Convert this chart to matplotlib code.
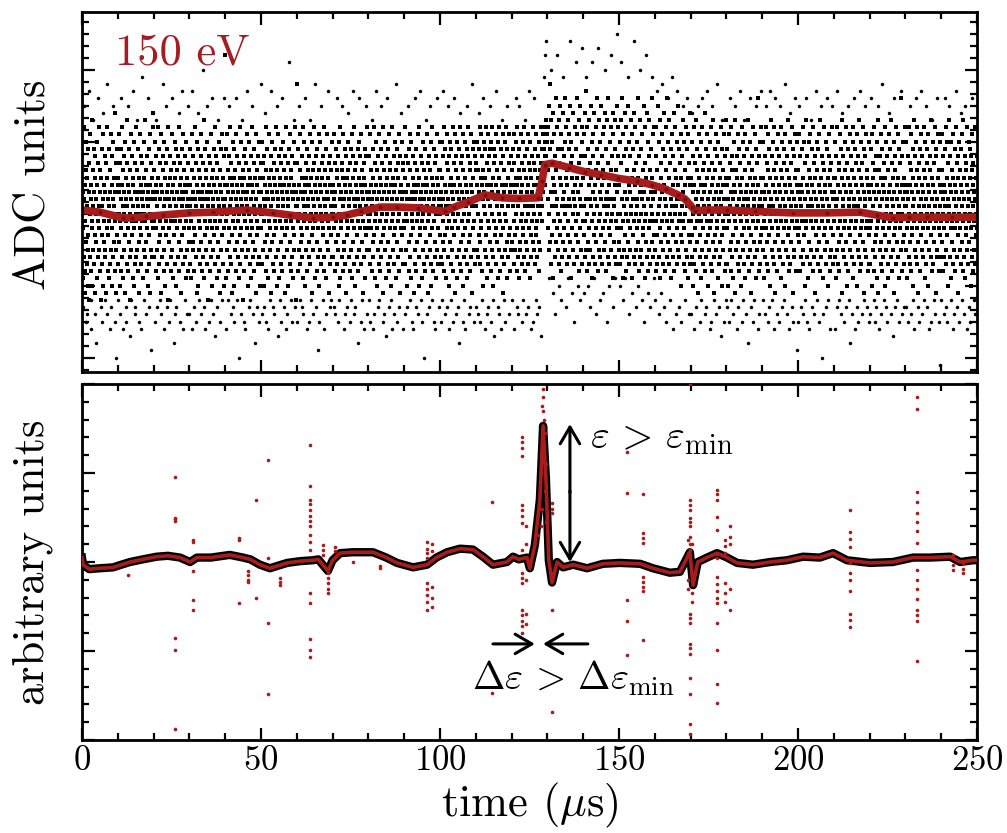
import numpy as np
import matplotlib
matplotlib.use("Agg")
import matplotlib.pyplot as plt
from matplotlib.ticker import MultipleLocator, AutoMinorLocator

plt.rcParams["font.family"] = "cmr10"
plt.rcParams["mathtext.fontset"] = "cm"
plt.rcParams["axes.unicode_minus"] = False
plt.rcParams["axes.formatter.use_mathtext"] = True

# --- top panel: raw ADC samples, one letter per sample, one row = 10 us
LEVELS = "ABCDEFGHIJKLMNOPQRSTUVWXYZabcdefghijklmnopqrstuvwxyz"  # 'Y' is level 0
ADC_ROWS = [
    "YgPbWkSaNcQXeUiRZdOhVTbMfYjSaQcWlXOeTZhRbVdNgYUaiPcXfSZkTWbQeYMdVhRZaOjXcUgSbTYfNWdkVQaZhPXeRbjTYcOgWaSiUdZmQbXfTNYhVc",
    "RdYjUbOfXaQhWcSkZePYbTgViNaXdRfZlWcQbUhSYeMjTaXgVdPZcOiWbRfYkSXaTeQhZUbNdWjYcVgRaXfPbZiTYdSlXcUeQaWgObZhRVcYjNaTfXdSkWbm",
    "XeSaYiQcWgTbZkPdUhRaVfXjNcYbSgWeQZiTadOXfVbRhYcMkWaUdZgSeQXbjTYcPfVaRiXdZhObWeSgYaUkQcXfTdNbZhVjRaYeWcSgPXbiTdZaQfUcW",
    "ZcRhXaPeYjUbTgWdQkVaSfZiNcYbOhXeTaRdWjUgZbQfYcSlPaXhVdTeWbRiZaMgYcQXfUjSbWdOeZaThVcXkRbYgPdWfUaSiQZcNeXbThYjVaRdWgOZcu",
    "aPhXcTjYeQbWgUdSkZaRfVcNiXbYhOdWeTaQjZcUgSbXfPYdVkRaWiTcZeMbYgQdXhUaSfWjZbOcTeYiRdVgXaPkWcSbUfZhQYdTjNaXeVcRgWbiSZdOfY",
    "WbRiYdTfXaOgZcUkQeVbShYaPjXdWcTgZeNbUiRaYfQdVhXcSkWbOeZaTjYgPcXdUfRhWbQiZaSeYcNgVdXkTbWfOaZhYcRjUeQdXbSgPaWiVcTfYkZbMq",
    "ZfQaXhTcYeRjWbUgSdVkPaZiXcObYfTdWhQeZaSgUcXjRbYdNiVeWaTfZkPcXgYbQhUdSaWjOeZcTiYbRfXdVgWaQkSeZcPhYbUjTdXaNfWcRgZeVbSiY",
    "YcSjWaQfZbUhXeRdTgVcOiYaPkXbWeSfZdQjUaThRcYbNgXdVeWiSaZfQcYhTbPjXdUgRaWkZeOcYfSbVhXaQdTiWgZcRjYbUeNaXfSdPhWcZgVkTbYaW",
    "XgTbYjRcWeQaZhUdSkVbPfXiYcOeWaTgZbRjQdXhUcSaYfNkVeWbTiZcPgXaYdRhUbQjWeSfZcOaXkTdYgVbRiWcPeZaUhXfSdQjYbNgTcWaViZeRfXb",
    "WdRkYbTgXaOfZcQhUeSjVaPiYbXdWgNcZfTaRhQbXeUjYcSdOkWaVgZbPfXiTcYeRaQhWdUbSjZcNfXgYaTeViObRdWkZcQhXaUfSgYbPjTdWcReZaVi",
    "YeSbZiRdXgUaTkQcVhZbPfYjWaSeOgXcUiZdRhTbWkYaQfVcNjXeZgSbPiYdWhTaRkZcUfQbXgVeOjYaSdWiTcZhRbPgXkUaYeQfVcSjZbNhWdTiXaRgZe",
    "ZfTcaiSeYhVbUkRdXjWcQgaeOiZbThYdSkVcPfXjaRgWeUhZcQiTbYkSdOfXhaVgWcRjZeUbPiYdTkXaQfVhScZgNjWbReTiYcXkUaPhZdSfVjQbWgaTc",
    "aeUhZcRjXfVbTiYdQkWcSgZePhaUdTjXbRfYcWiVeSkZaQgXdUhTbYjRcZfWePiaVdSgXbUkZcTfYeRhWaVjXcSdZgUbQiYeTfakXchZejbfhdgkcielgjfi",
    "eWkaTnYhUqbRlZfVidPmXjcSgbUoZeWkaThYlRfdVnXcQjZhSmaUgbWiYoTdZkRecVlXhSjaUnZfPidWgbYmTeaRkZcVhXoSjdUbYlQfaWncTgZiRkXe",
    "dVjZSmXgTpaQkYeUhcRlWfaTnZdPiXjbSgYmVcaRkWeUoZhQfdTlXbYiSnaVgcRjWeZkTdXmUaQhbYlSfZoWcRiaVkXeTgdYmPjZaUhcSlXeRnbWgYkTd",
    "cUiYRlWfSoaPjXdTgZmVbQhYkSeaUnXcRiWgTbYlZdPjaVhXeSmcRkYfTaWiZoUdQgXbSlYhTcaRjWeVnZbPkXfUdYmScQiaTgWlXeRhZbUoYdSjaVkXc",
    "bTgXQkVeRnYcSiZaPlWdUfbXjRhTmYcQgaVkZeSoXbUiWdRlYfTaPhZjXcSgVmbQeYkUdZiRaWnTcXhSfYaOjVdZgUlXbRiWcQeYkTaShZdPjXfVcUmR",
    "XZdSiVbOgYkRcTfWaQlXeUhZbNjYdSgVcPiXaTkWeRfZbQmYcUhSdXjVaOgZeTiWbRkXcQfYdUlSaNhVeZjTbWgXcPiYaRfSdUkZbOhVcXeTjWaQgYdRl",
    "WcRhYaOjXdTfZbQkUeSgVaPiYcNlXbWeTgZdRjUaQhYcSfXbOkVdZiTaWgRePjYbUcXhSlZaQfWdTiVbNgYeRkXcUaZjSdPhWbYfToXcQgZaUiRdVkWb",
    "ZdTiXbPgYaSkWcRfUeQjZbVhXdOlYaTgWcSiZeRkUbNfXdQhYaWjVcTgZbSeXkPiYdRaUhWfZcOjXbTgYeSlVaQdWiRcZfUkXbNhYgTaSjWdZeQcXiVb",
    "YeUjWaQgZcShXbRkTdViYfOaXlWcSgZbPiYeUdRjXaThZcQkWbSfYdNgVaXiTeZhRcWjUbQlYdSaXgPfZeVkTcWbRiYaUhXdOgZjSeQcWfTbYkRaVd",
    "XbSiYdPgZaTkWcRfUeQjXbVhYdNlZaTgWcSiXeRkUbOfYdQhZaWjVcTgXbSeYkPiZdRaUhWfXcOjYbTgZeSlVaQdWiRcXfUkYbNhZgTaSjWdXeQcYiVbR",
    "WaRhXcOjYdTfZbQkUeSgVaPiWcNlXbYeTgZdRjUaQhWcSfXbOkVdYiTaZgRePjWbUcXhSlYaQfZdTiVbNgWeRkXcUaYjSdPhZbWfToXcQgYaUiRdVkZb",
    "ZcTiWbPgXaSkYcRfUeQjWbVhZdOlXaTgYcSiWeRkUbNfZdQhXaYjVcTgWbSeZkPiXdRaUhYfWcOjZbTgXeSlVaQdYiRcWfUkZbNhXgTaSjYdWeQcZiVbS",
    "XeUjYaQgWcShZbRkTdViXfOaYlZcSgWbPiXeUdRjYaThWcQkZbSfXdNgVaYiTeWhRcZjUbQlXdSaYgPfWeVkTcZbRiXaUhYdOgWjSeQcZfTbXkRaVdYgW",
]
# edge-of-band and far samples: "TTL" = tenths of us into the 10 us row, then level letter
ADC_TAIL_ROWS = [
    "02L 05n 11J 13K 19p 24M 26I 31l 37K 40G 44o 52L 55J 58m 63M 69K 71q 77I 80L 86n 91J 95E",
    "01M 07K 09o 15I 22L 23J 28n 33H 36M 42p 47K 49L 54l 60J 65I 68r 73M 78K 84o 87L 93F 98m",
    "04J 06l 10L 17M 20K 25q 29I 35n 38L 43J 46M 51o 57G 59K 64L 70m 75J 79p 82I 88M 92K 97n",
    "00K 06I 08p 14L 18J 24m 27M 32K 39s 41L 45I 50n 56J 61M 64o 67K 72H 76L 81l 85J 90M 96o",
    "03I 07M 12n 16K 21L 24J 30o 34M 38E 43K 48l 53J 55I 62p 66L 69M 74n 79K 83G 89L 94J 99q",
    "02K 09L 11m 14J 20I 26M 29p 33L 37K 44n 47H 52M 57J 60o 65L 71I 73K 78t 84M 86J 91l 96L",
    "01J 05n 10M 15L 18K 23o 28I 34J 36l 40M 46K 50q 54L 59F 63J 68n 72M 77I 81K 87p 92L 95M",
    "03L 08K 12o 16J 19M 26n 31I 35K 39L 42m 48J 51M 56p 61K 64L 70G 75o 79J 83M 88I 93n 97K",
    "02M 04J 10l 13I 17K 22p 27L 30M 36n 41J 44K 49H 53o 58L 62M 67I 72K 76q 80J 85L 91m 98I",
    "01K 07L 11n 15M 21J 24I 29o 32L 38K 43p 46M 51J 55E 60l 64K 69L 73n 78M 82J 86I 92o 96L",
    "03J 06M 09p 14K 19L 23n 26I 32M 35J 40o 45K 49L 53G 57m 63J 66M 71I 76n 80K 84L 89q 94J",
    "00L 05K 10m 12J 18M 21o 27I 31K 34L 39n 43J 48M 52H 56p 61L 65K 70I 74l 79M 83J 87n 93K",
    "02M 07I 11o 15L 19K 22n 28J 33M 37l 41K 46L 50p 55I 59J 63o 67M 71K 76L 81H 90r 93u 97w",
    "04P 09s 15N 21K 26u 33O 38M 45r 51L 57P 62w 69N 74J 80t 86O 92M 97v",
    "02N 08r 13O 19L 25t 31P 37K 42v 48M 55N 60s 66J 71O 78u 84L 89P 95x",
    "03O 07t 12M 18P 24r 29K 35N 41w 47L 52O 58s 63M 69J 75u 81N 87L 93r 98P",
    "01M 06p 11K 16N 20q 26L 31J 37o 42M 47r 52I 58K 63p 69L 74J 79n 85M 90o 96K",
    "02K 05m 10I 14L 20n 25J 28M 33o 39K 42L 47p 53I 56J 61n 66M 70K 75q 80L 86H 89l 94J 99M",
    "01L 06J 11o 13M 18K 24n 29I 32L 37p 43J 47M 50l 56K 60G 65o 70L 73J 78M 84n 88I 92K 97p",
    "03M 07K 10n 17J 19L 23p 28M 34I 37o 41K 48J 51n 55L 62M 64q 69K 74I 79m 82L 87J 91o 96F",
    "00J 04n 09L 13K 19M 21o 26J 31I 36l 40L 45K 49p 54M 58J 63n 68E 71K 77L 80o 85M 90I 95n",
    "02I 08L 10p 15M 20K 24m 29J 33L 39n 42M 46G 52K 57o 59I 65L 68J 73p 78K 83M 86n 92L 98J",
    "01K 05o 11M 14J 18L 23n 27I 32K 36q 41M 46L 50J 55m 59K 64H 69o 72L 76M 81J 87p 90K 96L",
    "03L 06J 12n 16K 21M 25I 30o 35L 38J 44p 47K 52M 57n 60L 66I 71J 74l 79M 83K 88o 93J 97D",
    "00M 07K 10o 14L 17J 22n 28M 32I 37K 40p 45L 51J 54m 58M 63K 67n 72I 77L 80J 85o 91M 94K",
]

# smoothed ADC trace (red line, top)
smooth_t = [0, 5, 11.5, 14, 18, 22.6, 30, 36.6, 46, 53.4, 58, 64.5, 70, 74, 78, 83.2,
            88, 93.9, 101.4, 104, 107.8, 112.6, 117.3, 122, 127.4, 128.5, 129.3, 131.3,
            136, 140.5, 145, 149.7, 155, 159.2, 163, 166.5, 168.5, 170.4, 171.2, 175,
            180.2, 188, 198.6, 208, 217.3, 222, 226.5, 231, 236, 243, 250]
smooth_v = [0.5, 0.2, -0.6, -0.6, -0.4, -0.2, 0.1, 0.2, 0.5, 0.1, -0.2, -0.6, -0.5, -0.2,
            0.3, 0.9, 0.9, 0.8, 0.3, 0.9, 1.6, 2.6, 2.2, 2.1, 2.2, 4.5, 6.8, 7.0, 6.4, 5.8,
            5.4, 4.9, 4.5, 4.0, 3.4, 2.6, 2.0, 0.9, 0.4, 0.5, 0.5, 0.3, 0.1, 0.1, 0.2,
            -0.2, -0.6, -0.5, -0.5, -0.5, -0.5]

# --- bottom panel: filtered trace (black line)
filt_t = [0, 0.3, 2, 5, 8.7, 11, 13.4, 17, 20.9, 24, 27.4, 30.2, 32.1, 36, 41.3, 45, 47,
          49.7, 52.5, 57.3, 61, 64.5, 66, 68.7, 70, 72.1, 75.7, 81.3, 85, 88, 92.5, 96.4,
          99, 102, 105.6, 109.2, 112, 114.8, 118.7, 120.4, 122, 124.3, 125.1, 126.5,
          127.9, 128.8, 129.6, 130.4, 131.3, 132.7, 134.4, 137.2, 141.1, 145.5, 150.3,
          155.9, 159.5, 164.2, 167, 168.4, 169.8, 170.7, 172, 174.6, 177.4, 180.2, 183,
          187.4, 192.2, 196.9, 201.4, 206.1, 209.8, 213.7, 220.1, 226.5, 232.1, 236.9,
          242.5, 245.3, 248.9, 250]
filt_v = [0.05, -0.03, -0.08, -0.07, -0.06, -0.03, 0.0, 0.03, 0.06, 0.07, 0.05, 0.0,
          0.05, 0.05, 0.08, 0.05, 0.03, -0.03, -0.07, -0.01, 0.01, 0.02, 0.03, -0.10,
          0.02, 0.10, 0.11, 0.11, 0.05, -0.01, -0.06, -0.03, 0.05, 0.11, 0.15, 0.14,
          0.06, -0.03, 0.0, 0.06, 0.03, 0.05, -0.07, 0.19, 0.7, 1.53, 0.93, 0.02, -0.23,
          0.0, -0.06, -0.03, -0.07, -0.02, -0.01, -0.02, -0.07, -0.12, -0.11, 0.0, 0.11,
          -0.26, 0.0, 0.05, 0.10, 0.05, -0.01, -0.03, 0.0, 0.02, 0.06, 0.05, 0.10, 0.02,
          -0.01, 0.0, 0.05, 0.05, 0.06, 0.0, 0.02, 0.02]

# red outlier samples, grouped by time column
OUTLIERS = [
    (12.9, [-0.15]),
    (26.0, [0.95, 0.50, 0.48, 0.46, -0.85, -0.99, -1.88]),
    (31.0, [0.25, 0.23, -0.43, -0.54, -0.10]),
    (44.0, [0.27, 0.25, -0.46]),
    (46.5, [-0.10, -0.15, -0.20, -0.23]),
    (48.6, [0.70, -0.40]),
    (52.0, [1.15, 0.04, -0.68, -1.48]),
    (55.3, [-0.18, -0.22, -0.26]),
    (63.7, [1.32, 0.85, 0.70, 0.65, 0.58, 0.52, 0.46, 0.40, 0.30, 0.22, 0.14,
            -0.35, -0.46, -0.86, -0.99, -1.07]),
    (67.3, [0.19, 0.14, 0.08]),
    (68.7, [-0.12, -0.18, -0.24, -0.30, -0.35]),
    (70.7, [0.17, 0.12]),
    (75.7, [0.0]),
    (83.3, [-0.04, -0.07]),
    (96.5, [0.22, 0.15, 0.10, 0.05, -0.24, -0.30, -0.37, -0.45, -0.54]),
    (97.8, [0.20, 0.12, -0.28, -0.40, -0.50]),
    (114.5, [0.68, -1.47]),
    (123.0, [1.41, 1.35, 1.28, 1.19, 0.64, 0.58, 0.52, 0.44, 0.14, -0.12, -0.18, -0.24,
             -0.54, -0.60, -0.66, -0.72, -0.80]),
    (124.0, [0.40, 0.20, -0.20, -0.58, -0.70]),
    (131.3, [0.66, 0.60, 0.55, -0.54, -1.69]),
    (152.2, [1.24, 0.78, -0.43, -0.66, -1.05]),
    (156.7, [0.76, 0.33, 0.27, 0.21, -0.17, -0.22, -0.28, -0.32, -0.88]),
    (169.8, [2.0, 0.70, 0.64, 0.59, 0.50, 0.45, 0.40, 0.28, 0.20, 0.14, -0.58, -0.63,
             -0.69, -0.92, -0.97, -1.03, -1.30, -1.48, -1.82, -1.93]),
    (169.3, [0.10, -0.20, -0.30, 0.25]),
    (170.3, [-0.35, -0.45, 0.20, -0.15]),
    (177.4, [0.81, 0.76, 0.70, 0.51, 0.36, 0.09, 0.05, -0.17, -0.25, -0.33, -0.40,
             -0.46, -0.69, -0.99, -1.37, -1.58]),
    (179.5, [0.25, 0.18, 0.10, -0.24, -0.35, -0.45]),
    (181.0, [0.40, 0.28, 0.20, -0.30, -0.54]),
    (214.5, [0.59, 0.34, 0.26, 0.17, -0.01, -0.12, -0.20, -0.32, -0.58, -0.65, -0.73]),
    (233.2, [1.85, 1.72, 0.79, 0.67, 0.55, 0.45, 0.35, 0.21, -0.09, -0.20, -0.30,
             -0.41, -0.54, -0.60, -0.66, -1.11]),
    (243.3, [0.08, -0.03, -0.09]),
    (246.0, [-0.01, -0.08, -0.12]),
]
spike_t = [127.5, 127.8, 128.0, 128.2, 128.4, 128.6, 128.8, 128.9, 129.0, 129.1, 129.3,
           129.5, 129.7, 128.3, 128.5, 128.7, 129.2, 129.4, 128.1, 129.6, 128.9, 128.6]
spike_v = [0.3, 0.6, 0.9, 1.2, 1.5, 1.75, 1.94, 1.85, 1.6, 1.3, 1.0, 0.7, 0.45, 1.0, 0.6,
           1.35, 0.8, 1.45, 0.4, 1.1, 1.7, 1.2]


def decode(rows):
    ts, vs = [], []
    for k, row in enumerate(rows):
        n = len(row)
        for j, c in enumerate(row):
            ts.append(10 * k + 10 * (j + 0.5) / n)
            vs.append(LEVELS.index(c) - 24)
    return ts, vs


def decode_tail(rows):
    ts, vs = [], []
    for k, row in enumerate(rows):
        for tok in row.split():
            ts.append(10 * k + int(tok[:2]) / 10)
            vs.append(LEVELS.index(tok[2]) - 24)
    return ts, vs


def style(ax):
    ax.set_xlim(0, 250)
    ax.xaxis.set_major_locator(MultipleLocator(50))
    ax.xaxis.set_minor_locator(MultipleLocator(10))
    ax.tick_params(which="both", direction="in", top=True, right=True, width=1.6,
                   labelsize=25, pad=4, labelleft=False)
    ax.tick_params(which="major", length=9)
    ax.tick_params(which="minor", length=5)
    for sp in ax.spines.values():
        sp.set_linewidth(2)


RED = "#a81c1c"

fig = plt.figure(figsize=(10.07, 8.33), dpi=100)
ax1 = fig.add_axes([0.0814, 0.5534, 0.8888, 0.4322])
ax2 = fig.add_axes([0.0814, 0.1116, 0.8888, 0.4274])

# top panel
rect = [(-1, -0.68), (1, -0.68), (1, 0.68), (-1, 0.68), (-1, -0.68)]
t_raw, v_raw = decode(ADC_ROWS)
t_tail, v_tail = decode_tail(ADC_TAIL_ROWS)
ax1.plot(t_raw, v_raw, ls="none", marker=rect, ms=3.3, mew=0, color="k")
ax1.plot(t_tail, v_tail, ls="none", marker="o", ms=2.5, mew=0, color="k")
ax1.plot(smooth_t, smooth_v, color=RED, lw=5.5, solid_joinstyle="round")
ax1.plot(smooth_t, smooth_v, ls="none", marker="o", ms=2.8, mew=0, color="#7a0e0e")
style(ax1)
ax1.tick_params(labelbottom=False)
ax1.set_ylim(-22, 28)
ax1.yaxis.set_major_locator(MultipleLocator(10))
ax1.yaxis.set_minor_locator(AutoMinorLocator(6))
ax1.set_ylabel("ADC units", fontsize=32)
ax1.yaxis.set_label_coords(-0.032, 0.52)
ax1.text(0.037, 0.853, "150 eV", transform=ax1.transAxes, fontsize=32,
         color="#a51c24", va="baseline")

# bottom panel
out_t = [t for t, vals in OUTLIERS for _ in vals]
out_v = [v for _, vals in OUTLIERS for v in vals]
ax2.plot(filt_t, filt_v, color="k", lw=6, solid_joinstyle="round", zorder=2)
ax2.plot(filt_t, filt_v, color=RED, lw=2.6, zorder=3)
ax2.plot(out_t, out_v, ls="none", marker="o", ms=2.6, mew=0, color=RED, zorder=3)
ax2.plot(spike_t, spike_v, ls="none", marker="o", ms=2.6, mew=0, color=RED, zorder=3)
style(ax2)
ax2.set_ylim(-2, 2)
ax2.yaxis.set_major_locator(MultipleLocator(1))
ax2.yaxis.set_minor_locator(AutoMinorLocator(5))
ax2.set_ylabel("arbitrary units", fontsize=32)
ax2.yaxis.set_label_coords(-0.032, 0.5)
ax2.set_xlabel(r"time ($\mu$s)", fontsize=32)
ax2.xaxis.set_label_coords(0.5, -0.115)

arrow = dict(arrowstyle="->, head_length=0.6, head_width=0.35", lw=2.2, color="k",
             mutation_scale=20, shrinkA=0, shrinkB=0)
ax2.annotate("", xy=(136.3, 1.55), xytext=(136.3, 0.78), arrowprops=arrow, zorder=5)
ax2.annotate("", xy=(136.3, 0.0), xytext=(136.3, 0.8), arrowprops=arrow, zorder=5)
ax2.annotate("", xy=(126.5, -0.92), xytext=(114.8, -0.92), arrowprops=arrow, zorder=5)
ax2.annotate("", xy=(128.8, -0.92), xytext=(141.3, -0.92), arrowprops=arrow, zorder=5)
ax2.text(141.9, 1.38, r"$\varepsilon\, >\, \varepsilon_{\rm min}$", fontsize=29,
         va="center", ha="left", zorder=6)
ax2.text(108.9, -1.31, r"$\Delta\varepsilon\, >\, \Delta\varepsilon_{\rm min}$",
         fontsize=28, va="center", ha="left", zorder=6)

fig.savefig("out.png", dpi=100)
